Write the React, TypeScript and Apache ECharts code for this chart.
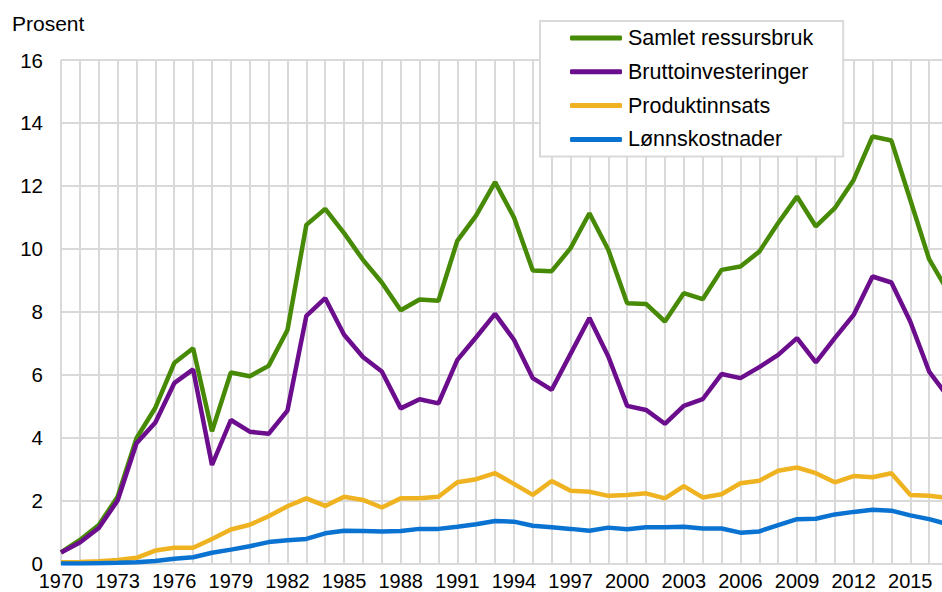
import React, { useEffect, useRef } from "react";
import * as echarts from "echarts";

const years: string[] = [];
for (let y = 1970; y <= 2017; y++) years.push(String(y));

const seriesNames = ["Samlet ressursbruk", "Bruttoinvesteringer", "Produktinnsats", "Lønnskostnader"];

const samlet = [
  0.35, 0.75, 1.22, 2.12, 3.98, 4.95, 6.37, 6.84, 4.2, 6.07,
  5.95, 6.28, 7.42, 10.76, 11.27, 10.5, 9.65, 8.93, 8.05, 8.39,
  8.35, 10.25, 11.06, 12.12, 11.0, 9.31, 9.29, 10.02, 11.13, 9.97,
  8.27, 8.25, 7.69, 8.59, 8.4, 9.33, 9.44, 9.91, 10.82, 11.66,
  10.71, 11.29, 12.19, 13.57, 13.44, 11.56, 9.67, 8.65,
];

const brutto = [
  0.35, 0.67, 1.13, 2.0, 3.82, 4.48, 5.73, 6.17, 3.13, 4.56,
  4.19, 4.12, 4.86, 7.87, 8.43, 7.27, 6.56, 6.1, 4.93, 5.22,
  5.09, 6.47, 7.19, 7.93, 7.11, 5.89, 5.52, 6.66, 7.8, 6.58,
  5.01, 4.88, 4.44, 5.01, 5.22, 6.02, 5.89, 6.24, 6.63, 7.16,
  6.39, 7.16, 7.9, 9.12, 8.93, 7.69, 6.1, 5.3,
];

const produkt = [
  0.04, 0.05, 0.07, 0.11, 0.18, 0.41, 0.5, 0.5, 0.78, 1.08,
  1.23, 1.5, 1.82, 2.07, 1.83, 2.12, 2.02, 1.78, 2.07, 2.07,
  2.12, 2.58, 2.68, 2.87, 2.53, 2.18, 2.62, 2.31, 2.28, 2.15,
  2.18, 2.23, 2.07, 2.46, 2.1, 2.2, 2.55, 2.63, 2.95, 3.05,
  2.87, 2.58, 2.78, 2.74, 2.87, 2.18, 2.15, 2.08,
];

const lonn = [
  0.0, 0.0, 0.01, 0.02, 0.04, 0.08, 0.15, 0.2, 0.34, 0.44,
  0.55, 0.68, 0.74, 0.78, 0.96, 1.04, 1.03, 1.02, 1.03, 1.1,
  1.1, 1.17, 1.25, 1.35, 1.33, 1.2, 1.15, 1.1, 1.04, 1.14,
  1.09, 1.15, 1.15, 1.17, 1.11, 1.11, 0.98, 1.02, 1.22, 1.41,
  1.42, 1.56, 1.64, 1.71, 1.68, 1.53, 1.41, 1.25,
];

const colors = ["#478a06", "#6b0d8c", "#efb322", "#0a73d1"];
const FONT = "'Liberation Sans', Arial, sans-serif";

export default function App() {
  const ref = useRef<HTMLDivElement>(null);
  useEffect(() => {
    if (!ref.current) return;
    const chart = echarts.init(ref.current, undefined, { renderer: "svg" });
    const data = [samlet, brutto, produkt, lonn];
    chart.setOption({
      animation: false,
      textStyle: { fontFamily: FONT },
      grid: { left: 61, right: 12, top: 60, bottom: 28.5, containLabel: false },
      graphic: [
        {
          type: "text",
          left: 12,
          top: 13,
          style: { text: "Prosent", fontSize: 21, fontFamily: FONT, fill: "#000" },
        },
      ],
      legend: {
        show: true,
        orient: "vertical",
        left: 540,
        top: 21,
        padding: [6, 30, 6, 30],
        itemGap: 11.8,
        itemWidth: 52,
        itemHeight: 5,
        icon: "roundRect",
        borderColor: "#d9d9d9",
        borderWidth: 2,
        backgroundColor: "#fff",
        textStyle: { fontSize: 21.5, fontFamily: FONT, color: "#000", padding: [0, 0, 0, 1] },
        data: seriesNames,
      },
      xAxis: {
        type: "category",
        data: years,
        boundaryGap: false,
        axisLine: { show: true, lineStyle: { color: "#d9d9d9", width: 2 } },
        axisTick: { show: false },
        axisLabel: { interval: 2, fontSize: 20, color: "#000", margin: 7, fontFamily: FONT },
        splitLine: { show: true, interval: 0, lineStyle: { color: "#d9d9d9", width: 2 } },
      },
      yAxis: {
        type: "value",
        min: 0,
        max: 16,
        interval: 2,
        axisLine: { show: false },
        axisTick: { show: false },
        axisLabel: { fontSize: 20.5, color: "#000", margin: 18, fontFamily: FONT },
        splitLine: { show: true, lineStyle: { color: "#d9d9d9", width: 2 } },
      },
      series: seriesNames.map((name, i) => ({
        name,
        type: "line",
        data: data[i],
        symbol: "none",
        showSymbol: false,
        lineStyle: { color: colors[i], width: 4.5 },
        itemStyle: { color: colors[i] },
        z: 2 + i,
      })),
    });
    return () => chart.dispose();
  }, []);
  return (
    <div style={{ position: "fixed", left: 0, top: 0, width: 942, height: 592, overflow: "hidden", background: "#fff" }}>
      <div ref={ref} style={{ width: 960, height: 592 }} />
    </div>
  );
}
